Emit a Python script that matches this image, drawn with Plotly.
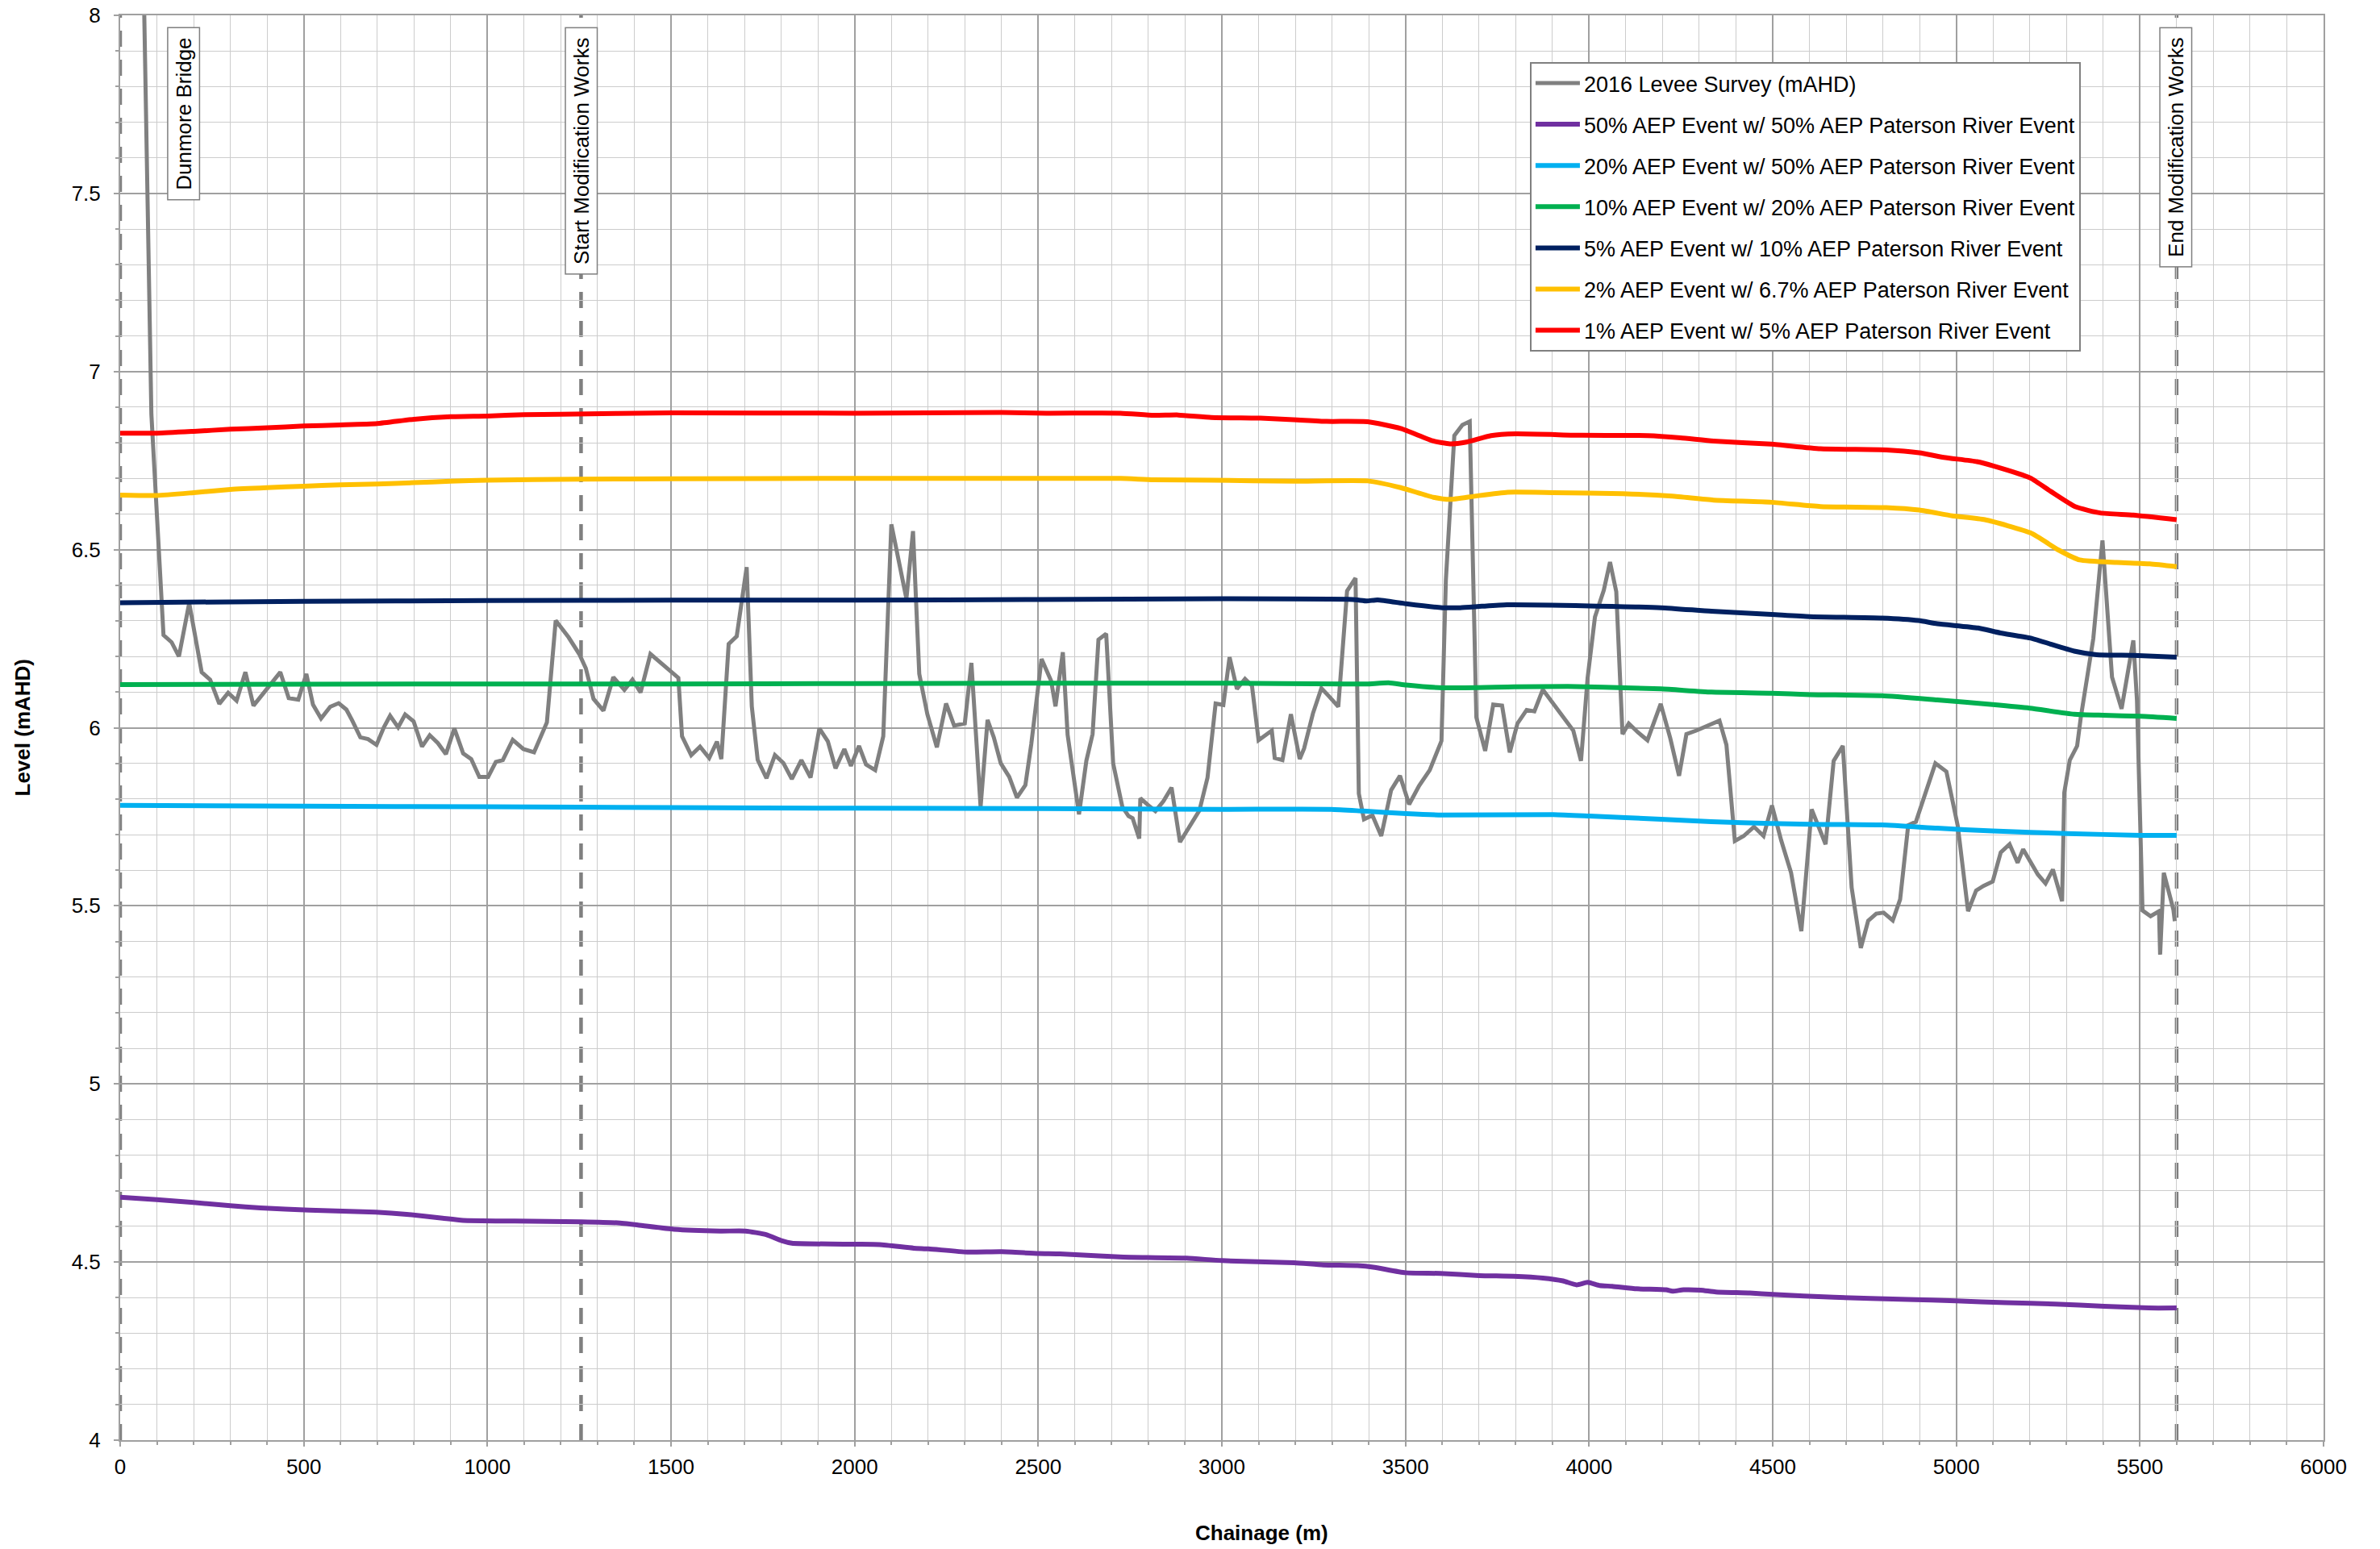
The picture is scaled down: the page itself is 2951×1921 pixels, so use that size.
import plotly.graph_objects as go

# ---------------- data ----------------
survey_x = [0, 85, 118, 140, 160, 188, 222, 245, 270, 294, 317, 341, 363, 387, 412, 436, 459, 485, 507, 525,
            547, 572, 595, 616, 632, 654, 675, 698, 718, 735, 757, 776, 799, 822, 843, 865, 887, 910, 934, 956,
            978, 1002, 1023, 1042, 1069, 1098, 1127, 1162, 1186, 1221, 1250, 1268, 1289, 1316, 1343, 1373, 1395,
            1417, 1444, 1490, 1520, 1530, 1555, 1579, 1604, 1625, 1637, 1657, 1679, 1706, 1720, 1736, 1760, 1783,
            1806, 1829, 1855, 1880, 1904, 1927, 1948, 1972, 1990, 2012, 2031, 2056, 2078, 2100, 2141, 2159, 2176,
            2198, 2224, 2249, 2271, 2300, 2318, 2343, 2362, 2379, 2398, 2421, 2442, 2465, 2481, 2509, 2535, 2547,
            2567, 2580, 2594, 2611, 2631, 2648, 2664, 2685, 2704, 2729, 2746, 2757, 2775, 2778, 2799, 2819, 2841,
            2863, 2886, 2907, 2922, 2939, 2961, 2983, 3004, 3021, 3041, 3063, 3082, 3100, 3136, 3144, 3165, 3188,
            3212, 3224, 3248, 3271, 3292, 3317, 3341, 3364, 3373, 3387, 3410, 3434, 3461, 3485, 3510, 3537, 3566,
            3598, 3610, 3633, 3655, 3675, 3693, 3717, 3739, 3763, 3784, 3805, 3830, 3851, 3874, 3957, 3978, 3996,
            4016, 4040, 4057, 4074, 4091, 4108, 4133, 4159, 4195, 4221, 4245, 4265, 4292, 4314, 4355, 4374, 4397,
            4421, 4449, 4475, 4498, 4523, 4550, 4578, 4606, 4644, 4666, 4691, 4715, 4740, 4760, 4782, 4802, 4827,
            4847, 4869, 4890, 4943, 4973, 5004, 5032, 5054, 5074, 5099, 5121, 5145, 5167, 5182, 5202, 5222, 5243,
            5263, 5288, 5294, 5309, 5329, 5339, 5373, 5398, 5424, 5450, 5482, 5492, 5507, 5529, 5552, 5555, 5565,
            5591, 5595]
survey_y = [11.8, 6.88, 6.26, 6.24, 6.20, 6.35, 6.156, 6.135, 6.067, 6.098, 6.076, 6.156, 6.062, 6.093, 6.126,
            6.156, 6.083, 6.079, 6.151, 6.065, 6.026, 6.059, 6.069, 6.051, 6.020, 5.973, 5.968, 5.952, 6.001,
            6.034, 6.001, 6.037, 6.018, 5.947, 5.979, 5.957, 5.926, 5.998, 5.928, 5.912, 5.862, 5.862, 5.904,
            5.909, 5.966, 5.940, 5.931, 6.015, 6.301, 6.254, 6.207, 6.167, 6.081, 6.048, 6.142, 6.106, 6.135,
            6.099, 6.207, 6.168, 6.140, 5.976, 5.923, 5.947, 5.915, 5.961, 5.912, 6.235, 6.257, 6.451, 6.06,
            5.91, 5.858, 5.923, 5.901, 5.856, 5.909, 5.860, 5.998, 5.962, 5.886, 5.940, 5.893, 5.949, 5.897,
            5.881, 5.976, 6.571, 6.362, 6.552, 6.151, 6.038, 5.945, 6.068, 6.006, 6.012, 6.182, 5.778, 6.022,
            5.973, 5.900, 5.862, 5.804, 5.839, 5.954, 6.193, 6.132, 6.060, 6.212, 5.980, 5.877, 5.757, 5.907,
            5.982, 6.247, 6.264, 5.900, 5.778, 5.752, 5.746, 5.689, 5.802, 5.783, 5.766, 5.794, 5.832, 5.679,
            5.715, 5.738, 5.768, 5.860, 6.068, 6.064, 6.198, 6.109, 6.137, 6.118, 5.965, 5.992, 5.915, 5.909,
            6.038, 5.912, 5.942, 6.040, 6.111, 6.088, 6.059, 6.384, 6.420, 5.815, 5.743, 5.754, 5.696, 5.825,
            5.865, 5.785, 5.837, 5.881, 5.963, 6.414, 6.82, 6.85, 6.86, 6.029, 5.935, 6.065, 6.062, 5.931, 6.012,
            6.050, 6.046, 6.107, 5.992, 5.907, 6.140, 6.311, 6.386, 6.465, 6.382, 5.982, 6.012, 5.987, 5.965,
            6.067, 5.971, 5.865, 5.982, 5.992, 6.001, 6.020, 5.952, 5.682, 5.696, 5.722, 5.696, 5.782, 5.684,
            5.593, 5.429, 5.771, 5.673, 5.907, 5.949, 5.551, 5.382, 5.458, 5.478, 5.481, 5.459, 5.518, 5.726,
            5.736, 5.900, 5.877, 5.724, 5.485, 5.543, 5.556, 5.568, 5.650, 5.673, 5.621, 5.659, 5.626, 5.588,
            5.563, 5.602, 5.513, 5.818, 5.909, 5.949, 6.029, 6.250, 6.526, 6.142, 6.053, 6.245, 6.076, 5.487,
            5.471, 5.485, 5.363, 5.593, 5.490, 5.457]

aep50_x = [0, 100, 200, 300, 382, 515, 696, 780, 878, 934, 1074, 1256, 1354, 1410, 1508, 1634, 1703, 1759, 1801,
           1829, 2000, 2068, 2161, 2201, 2307, 2400, 2500, 2559, 2665, 2732, 2904, 3000, 3197, 3276, 3369, 3416,
           3500, 3595, 3701, 3794, 3874, 3929, 3966, 3996, 4029, 4063, 4130, 4210, 4227, 4257, 4304, 4345, 4438,
           4500, 4666, 4867, 4999, 5135, 5269, 5403, 5524, 5600]
aep50_y = [4.682, 4.675, 4.667, 4.658, 4.652, 4.646, 4.640, 4.634, 4.623, 4.617, 4.615, 4.613, 4.610, 4.604,
           4.592, 4.587, 4.587, 4.577, 4.560, 4.553, 4.550, 4.549, 4.539, 4.537, 4.528, 4.529, 4.524, 4.523,
           4.517, 4.514, 4.511, 4.504, 4.498, 4.492, 4.490, 4.485, 4.470, 4.468, 4.462, 4.460, 4.455, 4.447,
           4.436, 4.443, 4.434, 4.432, 4.425, 4.422, 4.418, 4.422, 4.421, 4.416, 4.413, 4.409, 4.401, 4.395,
           4.391, 4.386, 4.382, 4.376, 4.371, 4.371]

aep20_x = [0, 500, 1000, 1500, 2000, 2500, 3000, 3297, 3385, 3502, 3600, 3903, 4001, 4196, 4333, 4497, 4601,
           4797, 4948, 5099, 5301, 5502, 5600]
aep20_y = [5.782, 5.780, 5.778, 5.776, 5.774, 5.773, 5.771, 5.771, 5.766, 5.759, 5.755, 5.756, 5.752, 5.743,
           5.736, 5.731, 5.729, 5.727, 5.718, 5.710, 5.703, 5.698, 5.698]

aep10_x = [0, 1000, 1500, 2000, 2500, 3000, 3336, 3395, 3454, 3502, 3600, 3796, 3942, 4040, 4196, 4333, 4497,
           4601, 4797, 4948, 5099, 5200, 5321, 5401, 5502, 5600]
aep10_y = [6.121, 6.123, 6.123, 6.124, 6.125, 6.125, 6.123, 6.123, 6.126, 6.120, 6.112, 6.115, 6.116, 6.114,
           6.109, 6.100, 6.097, 6.093, 6.090, 6.078, 6.065, 6.055, 6.038, 6.035, 6.032, 6.026]

aep5_x = [0, 500, 1000, 1500, 2000, 2500, 3000, 3356, 3395, 3424, 3502, 3600, 3649, 3708, 3776, 4001, 4196,
          4333, 4497, 4601, 4797, 4897, 4948, 5059, 5120, 5200, 5321, 5382, 5482, 5600]
aep5_y = [6.351, 6.355, 6.357, 6.358, 6.358, 6.360, 6.362, 6.360, 6.356, 6.359, 6.348, 6.337, 6.337, 6.341,
          6.345, 6.342, 6.337, 6.327, 6.318, 6.312, 6.308, 6.301, 6.292, 6.280, 6.266, 6.252, 6.215, 6.205,
          6.203, 6.198]

aep2_x = [0, 100, 200, 300, 400, 500, 600, 700, 800, 900, 1000, 1250, 1500, 2000, 2522, 2724, 2814, 2971, 3195,
          3397, 3487, 3576, 3621, 3688, 3778, 3903, 4092, 4226, 4339, 4496, 4630, 4809, 4899, 4989, 5078, 5202,
          5280, 5336, 5437, 5527, 5600]
aep2_y = [6.653, 6.652, 6.660, 6.669, 6.674, 6.678, 6.682, 6.684, 6.688, 6.692, 6.695, 6.698, 6.699, 6.700,
          6.700, 6.700, 6.696, 6.695, 6.692, 6.693, 6.674, 6.647, 6.641, 6.650, 6.661, 6.660, 6.657, 6.650,
          6.639, 6.633, 6.621, 6.618, 6.611, 6.595, 6.584, 6.547, 6.498, 6.471, 6.464, 6.460, 6.452]

aep1_x = [0, 100, 200, 300, 400, 500, 600, 700, 800, 900, 1000, 1100, 1200, 1500, 2000, 2400, 2522, 2724, 2814,
          2881, 2971, 3105, 3195, 3285, 3397, 3487, 3576, 3621, 3666, 3733, 3800, 3980, 4159, 4249, 4339, 4496,
          4630, 4809, 4899, 4966, 5056, 5101, 5202, 5258, 5325, 5392, 5482, 5600]
aep1_y = [6.827, 6.827, 6.832, 6.838, 6.842, 6.847, 6.850, 6.854, 6.866, 6.873, 6.875, 6.879, 6.880, 6.884,
          6.883, 6.885, 6.883, 6.883, 6.877, 6.878, 6.871, 6.869, 6.865, 6.860, 6.859, 6.840, 6.805, 6.797,
          6.802, 6.820, 6.825, 6.821, 6.820, 6.814, 6.805, 6.796, 6.783, 6.780, 6.772, 6.759, 6.747, 6.735,
          6.701, 6.663, 6.620, 6.603, 6.597, 6.584]

series = [
    ("2016 Levee Survey (mAHD)", survey_x, survey_y, "#808080", "linear"),
    ("50% AEP Event w/ 50% AEP Paterson River Event", aep50_x, aep50_y, "#7030A0", "spline"),
    ("20% AEP Event w/ 50% AEP Paterson River Event", aep20_x, aep20_y, "#00B0F0", "spline"),
    ("10% AEP Event w/ 20% AEP Paterson River Event", aep10_x, aep10_y, "#00B050", "spline"),
    ("5% AEP Event w/ 10% AEP Paterson River Event", aep5_x, aep5_y, "#002060", "spline"),
    ("2% AEP Event w/ 6.7% AEP Paterson River Event", aep2_x, aep2_y, "#FFC000", "spline"),
    ("1% AEP Event w/ 5% AEP Paterson River Event", aep1_x, aep1_y, "#FF0000", "spline"),
]

markers_x = [0, 1255, 5600]
marker_labels = ["Dunmore Bridge", "Start Modification Works", "End Modification Works"]
label_x = [172, 1255, 5598]

FONT = "Liberation Sans, Arial, sans-serif"

fig = go.Figure()
for i, (name, xs, ys, col, shape) in enumerate(series):
    fig.add_trace(go.Scatter(
        x=xs, y=ys, name=name, mode="lines",
        line=dict(color=col, width=5 if i == 0 else 6, shape=shape,
                  smoothing=0.5 if shape == "spline" else None),
        legendgroup=f"g{i}",
    ))

# dashed reference lines
for xv in markers_x:
    fig.add_shape(type="line", xref="x", yref="paper", x0=xv, x1=xv, y0=0, y1=1,
                  line=dict(color="#7f7f7f", width=4.5, dash="20px,16px"), layer="between")

for lx, lab in zip(label_x, marker_labels):
    fig.add_annotation(x=lx, xref="x", y=0.9917, yref="paper", text=" " + lab + " ",
                       textangle=-90, showarrow=False, xanchor="center", yanchor="top",
                       font=dict(family=FONT, size=26, color="black"),
                       bgcolor="white", bordercolor="#7f7f7f", borderwidth=1.5, borderpad=4)

# axis titles
fig.add_annotation(x=-0.0443, xref="paper", y=0.5, yref="paper", text="<b>Level (mAHD)</b>",
                   textangle=-90, showarrow=False, xanchor="center", yanchor="middle",
                   font=dict(family=FONT, size=26, color="black"))
fig.add_annotation(x=0.518, xref="paper", y=-0.0651, yref="paper", text="<b>Chainage (m)</b>",
                   showarrow=False, xanchor="center", yanchor="middle",
                   font=dict(family=FONT, size=26, color="black"))

axis_common = dict(
    showgrid=True, gridcolor="#a0a0a0", gridwidth=1.8,
    showline=True, linecolor="#a0a0a0", linewidth=2, mirror=True,
    ticks="outside", ticklen=6, tickcolor="#a0a0a0", tickwidth=1.5,
    tickfont=dict(family=FONT, size=26, color="black"),
    zeroline=False, automargin=False, ticklabeloverflow="allow",
)

fig.update_xaxes(range=[0, 6000], dtick=500, tick0=0,
                 minor=dict(dtick=100, showgrid=True, gridcolor="#cccccc", gridwidth=1.4,
                            ticks="outside", ticklen=4, tickcolor="#a0a0a0"),
                 ticklabelstandoff=3, **axis_common)
fig.update_yaxes(range=[4, 8], dtick=0.5, tick0=4,
                 minor=dict(dtick=0.1, showgrid=True, gridcolor="#cccccc", gridwidth=1.4,
                            ticks="outside", ticklen=4, tickcolor="#a0a0a0"),
                 ticklabelstandoff=11, **axis_common)

fig.update_layout(
    width=2951, height=1921,
    margin=dict(l=149, r=70, t=19, b=135, autoexpand=False),
    paper_bgcolor="white", plot_bgcolor="white",
    font=dict(family=FONT, size=26, color="black"),
    showlegend=True,
    legend=dict(x=0.6398, y=0.9672, xanchor="left", yanchor="top",
                bgcolor="white", bordercolor="#808080", borderwidth=2,
                font=dict(family=FONT, size=27, color="black"),
                tracegroupgap=13, traceorder="grouped", itemwidth=55),
)

# remove the browser's default 8px body margin so the figure fills the window exactly
fig.write_html("out.html",
               config={"displayModeBar": False},
               post_script="document.body.style.margin='0';document.body.style.overflow='hidden';")
